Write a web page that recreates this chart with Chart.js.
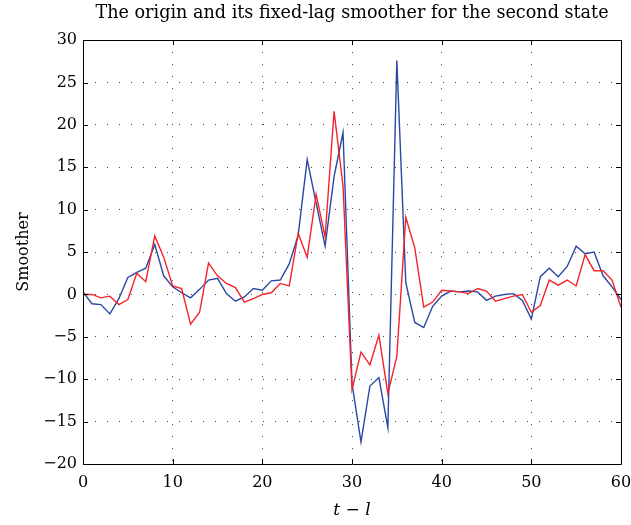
<!DOCTYPE html>
<html>
<head>
<meta charset="utf-8">
<script src="https://cdn.jsdelivr.net/npm/chart.js@4.4.1/dist/chart.umd.min.js"></script>
<style>
  html, body { margin: 0; padding: 0; background: #fff; }
  #wrap { width: 631px; height: 525px; }
</style>
</head>
<body>
<div id="wrap"><canvas id="grafico" width="631" height="525"></canvas></div>
<script>
// Pasos t - l
const pasos = [];
for (let i = 0; i <= 60; i++) pasos.push(i);

// Serie original (azul)
const original = [
    0.3, -1.1, -1.2, -2.3, -0.5, 2.0, 2.6, 3.1, 5.9, 2.2,
    0.9, 0.2, -0.4, 0.6, 1.7, 1.9, 0.1, -0.8, -0.3, 0.7,
    0.5, 1.6, 1.7, 3.6, 7.0, 15.9, 10.8, 5.7, 13.9, 19.1,
    -10.5, -17.4, -10.8, -9.8, -15.7, 27.6, 1.4, -3.3, -3.9, -1.4,
    -0.2, 0.4, 0.3, 0.4, 0.3, -0.7, -0.2, 0.0, 0.1, -0.7,
    -2.9, 2.1, 3.1, 2.1, 3.3, 5.7, 4.8, 5.0, 2.2, 0.9,
    -0.6
];

// Suavizador de retardo fijo (rojo)
const suavizado = [
    0.0, 0.0, -0.4, -0.2, -1.2, -0.6, 2.5, 1.5, 6.9, 4.4,
    1.0, 0.7, -3.5, -2.1, 3.7, 2.2, 1.3, 0.8, -0.9, -0.5,
    0.0, 0.2, 1.3, 1.0, 7.2, 4.4, 11.8, 6.8, 21.6, 12.8,
    -11.2, -6.8, -8.3, -4.8, -11.7, -7.3, 9.1, 5.5, -1.5, -0.9,
    0.5, 0.4, 0.3, 0.1, 0.7, 0.4, -0.8, -0.5, -0.2, 0.0,
    -2.1, -1.3, 1.7, 1.1, 1.7, 1.0, 4.7, 2.8, 2.8, 1.7,
    -1.5
];

// Ticks
const ticksX = [0, 10, 20, 30, 40, 50, 60];
const ticksY = [-20, -15, -10, -5, 0, 5, 10, 15, 20, 25, 30];

const fuente = "'DejaVu Serif', 'Liberation Serif', serif";

//Caja negra y marcas hacia adentro, estilo MATLAB
const caja = {
    id: "caja",
    afterDraw(chart) {
        const { ctx, chartArea: a, scales } = chart;
        ctx.save();
        ctx.strokeStyle = "#000";
        ctx.lineWidth = 1;
        ctx.beginPath();
        ctx.rect(Math.round(a.left) + 0.5, Math.round(a.top) + 0.5, Math.round(a.right - a.left), Math.round(a.bottom - a.top));
        ticksX.forEach((v) => {
            const px = Math.round(scales.x.getPixelForValue(v)) + 0.5;
            ctx.moveTo(px, a.bottom);
            ctx.lineTo(px, a.bottom - 5);
            ctx.moveTo(px, a.top);
            ctx.lineTo(px, a.top + 5);
        });
        ticksY.forEach((v) => {
            const py = Math.round(scales.y.getPixelForValue(v)) + 0.5;
            ctx.moveTo(a.left, py);
            ctx.lineTo(a.left + 5, py);
            ctx.moveTo(a.right, py);
            ctx.lineTo(a.right - 5, py);
        });
        ctx.stroke();
        ctx.restore();
    },
};

new Chart(document.getElementById("grafico"), {
    type: "line",
    data: {
        datasets: [
            {
                label: "Suavizado",
                data: pasos.map((x, i) => ({ x: x, y: suavizado[i] })),
                borderColor: "#f4232b",
                borderWidth: 1.4,
                pointRadius: 0,
                tension: 0,
            },
            {
                label: "Original",
                data: pasos.map((x, i) => ({ x: x, y: original[i] })),
                borderColor: "#2a48a2",
                borderWidth: 1.4,
                pointRadius: 0,
                tension: 0,
            },
        ],
    },
    options: {
        responsive: false,
        animation: false,
        layout: {
            padding: { left: 0, right: 10, top: 0, bottom: 0 },
        },
        plugins: {
            legend: { display: false },
            tooltip: { enabled: false },
            title: {
                display: true,
                fullSize: false,
                text: "The origin and its fixed-lag smoother for the second state",
                color: "#000",
                font: { family: fuente, size: 17.6, weight: "normal" },
                padding: { top: 3, bottom: 16 },
            },
        },
        scales: {
            x: {
                type: "linear",
                min: 0,
                max: 60,
                afterFit: (s) => {
                    s.height = 61;
                    s.paddingLeft = 0;
                    s.paddingRight = 0;
                },
                afterBuildTicks: (s) => { s.ticks = ticksX.map((v) => ({ value: v })); },
                ticks: {
                    color: "#000",
                    font: { family: fuente, size: 16 },
                    padding: 9,
                    maxRotation: 0,
                },
                grid: { color: "#444", drawTicks: false, lineWidth: 1 },
                border: { display: false, dash: [1, 11] },
                title: {
                    display: true,
                    text: "t − l",
                    color: "#000",
                    font: { family: fuente, size: 17, style: "italic" },
                    padding: { top: 0, bottom: 4 },
                },
            },
            y: {
                type: "linear",
                min: -20,
                max: 30,
                afterFit: (s) => { s.width = 83; },
                afterBuildTicks: (s) => { s.ticks = ticksY.map((v) => ({ value: v })); },
                ticks: {
                    color: "#000",
                    font: { family: fuente, size: 16 },
                    padding: 6,
                    callback: (v) => (v < 0 ? "\u2212" + Math.abs(v) : String(v)),
                },
                grid: { color: "#444", drawTicks: false, lineWidth: 1 },
                border: { display: false, dash: [1, 11] },
                title: {
                    display: true,
                    text: "Smoother",
                    color: "#000",
                    font: { family: fuente, size: 16 },
                    padding: { top: 14, bottom: 0 },
                },
            },
        },
    },
    plugins: [caja],
});
</script>
</body>
</html>
